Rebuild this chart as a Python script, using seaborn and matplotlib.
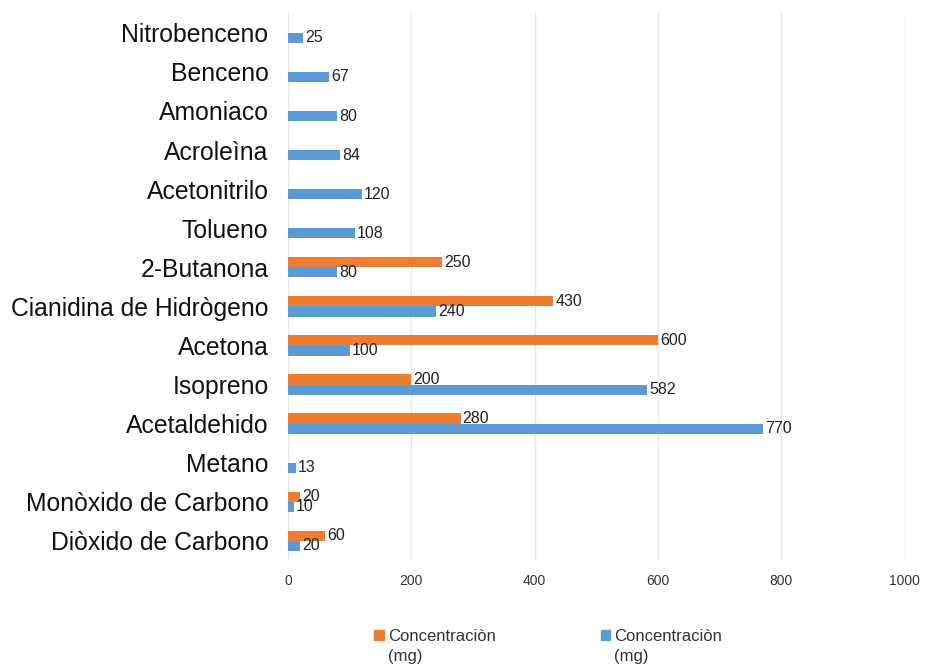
import numpy as np
import pandas as pd
import matplotlib
matplotlib.use("Agg")
import matplotlib.pyplot as plt
import seaborn as sns
from matplotlib.patches import Patch

compuestos = ["Nitrobenceno", "Benceno", "Amoniaco", "Acroleìna", "Acetonitrilo",
              "Tolueno", "2-Butanona", "Cianidina de Hidrògeno", "Acetona",
              "Isopreno", "Acetaldehido", "Metano", "Monòxido de Carbono",
              "Diòxido de Carbono"]
serie_naranja = [np.nan, np.nan, np.nan, np.nan, np.nan, np.nan, 250, 430, 600,
                 200, 280, np.nan, 20, 60]
serie_azul = [25, 67, 80, 84, 120, 108, 80, 240, 100, 582, 770, 13, 10, 20]
etiqueta = "Concentraciòn"
unidad = "(mg)"

sns.set_theme(style="white")
plt.rcParams["font.family"] = ["Liberation Sans", "DejaVu Sans"]

df = pd.DataFrame({
    "compuesto": compuestos * 2,
    "valor": serie_naranja + serie_azul,
    "serie": ["naranja"] * len(compuestos) + ["azul"] * len(compuestos),
})

colores = {"naranja": "#ED7D31", "azul": "#5B9BD5"}

fig = plt.figure(figsize=(9.26, 6.64), dpi=100)
ax = fig.add_axes([0.311, 0.156, 0.666, 0.824])

sns.barplot(data=df, x="valor", y="compuesto", hue="serie", order=compuestos,
            hue_order=["naranja", "azul"], palette=colores, orient="h",
            width=0.52, saturation=1, linewidth=0, legend=False, ax=ax)

for cont in ax.containers:
    labels = ["" if np.isnan(b.get_width()) else f"{b.get_width():.0f}" for b in cont]
    ax.bar_label(cont, labels=labels, padding=1.5, fontsize=11.5, color="#222222")

ax.set_xlim(0, 1000)
ax.set_xticks([0, 200, 400, 600, 800, 1000])
ax.set_xlabel("")
ax.set_ylabel("")
ax.grid(axis="x", color="#e6e6e6", linewidth=1)
ax.set_axisbelow(True)
for s in ax.spines.values():
    s.set_visible(False)
ax.tick_params(axis="x", length=0, pad=10, labelsize=10, labelcolor="#333333")
ax.tick_params(axis="y", length=0, pad=14, labelsize=17.8, labelcolor="#111111")

handles = [Patch(color=colores["naranja"]), Patch(color=colores["azul"])]
leg = fig.legend(handles, [etiqueta, etiqueta], loc="center",
                 bbox_to_anchor=(0.592, 0.042), ncol=2, frameon=False,
                 fontsize=12, columnspacing=6.3, handlelength=0.55,
                 handleheight=0.55, handletextpad=0.25)

# segunda linea de la leyenda debajo de cada texto
fig.canvas.draw()
W, H = fig.get_size_inches() * fig.dpi
for t in leg.get_texts():
    bb = t.get_window_extent()
    fig.text(bb.x0 / W, (bb.y0 - 20) / H, unidad, fontsize=12, color="#333333",
             ha="left", va="bottom")
for t in leg.get_texts():
    t.set_color("#333333")

fig.savefig("out.png", dpi=100)
